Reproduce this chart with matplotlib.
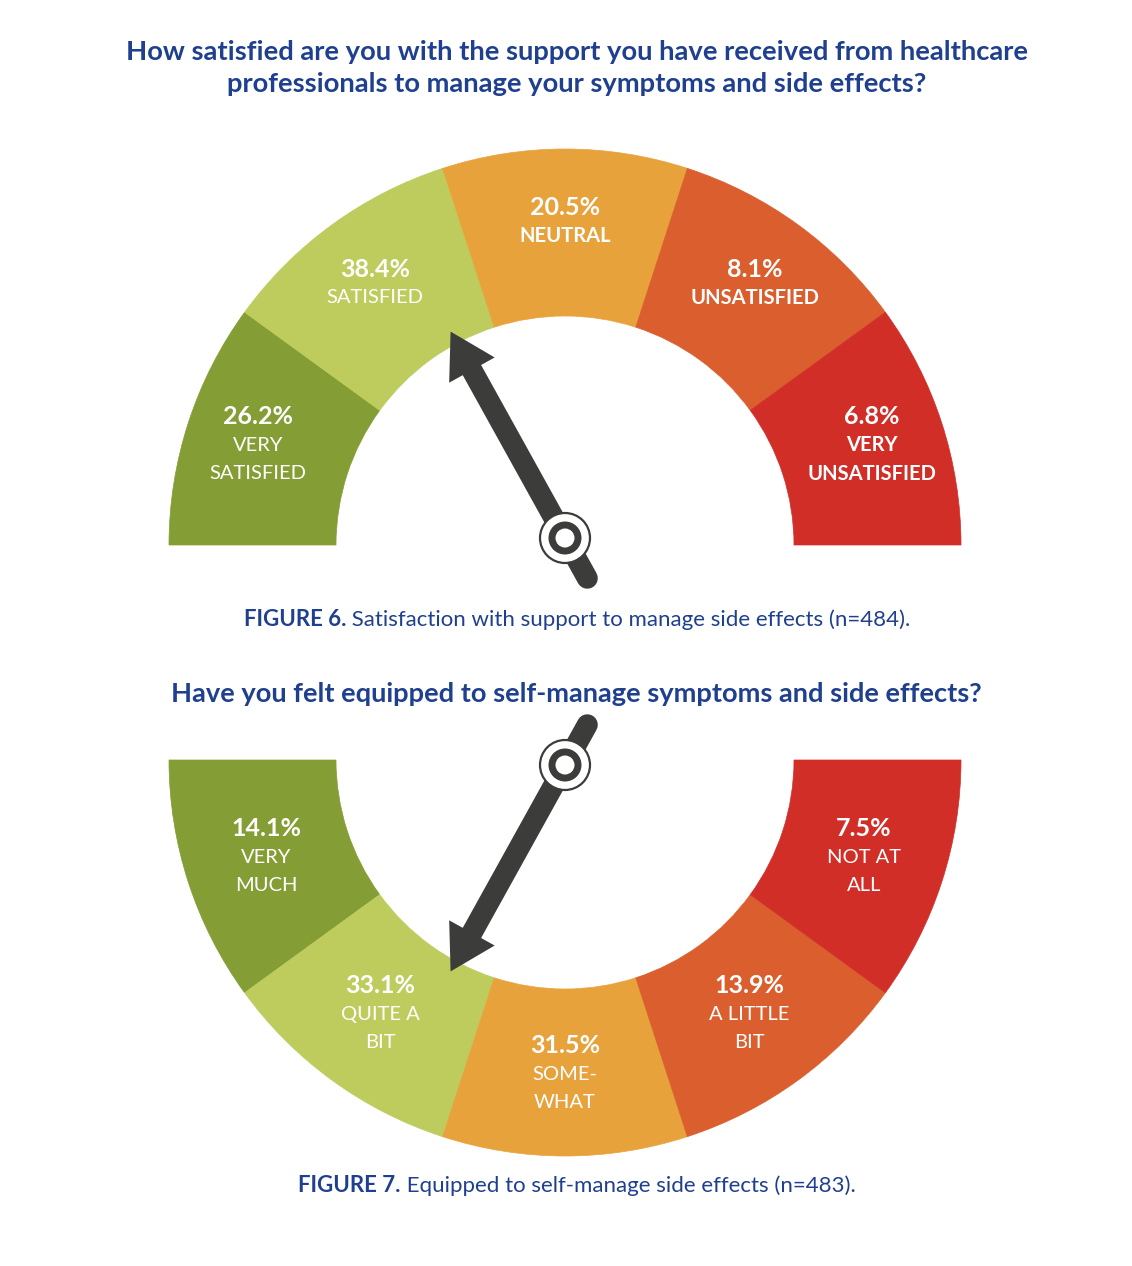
import matplotlib
matplotlib.use("Agg")
import matplotlib.pyplot as plt
from matplotlib.patches import Wedge, Circle, FancyArrow
import numpy as np

plt.rcParams['font.family'] = ['Lato', 'DejaVu Sans']

# figure 6 data
fig6_title = "How satisfied are you with the support you have received from healthcare\nprofessionals to manage your symptoms and side effects?"
fig6_values = [26.2, 38.4, 20.5, 8.1, 6.8]
fig6_labels = ["VERY\nSATISFIED", "SATISFIED", "NEUTRAL", "UNSATISFIED", "VERY\nUNSATISFIED"]
fig6_caption = ("FIGURE 6.", " Satisfaction with support to manage side effects (n=484).")
fig6_needle_deg = 119

# figure 7 data
fig7_title = "Have you felt equipped to self-manage symptoms and side effects?"
fig7_values = [14.1, 33.1, 31.5, 13.9, 7.5]
fig7_labels = ["VERY\nMUCH", "QUITE A\nBIT", "SOME-\nWHAT", "A LITTLE\nBIT", "NOT AT\nALL"]
fig7_caption = ("FIGURE 7.", " Equipped to self-manage side effects (n=483).")
fig7_needle_deg = 241

colors = ["#849D35", "#BECC5E", "#E8A23C", "#DA5E2E", "#D12E28"]
needle_col = "#3C3C3A"
blue = "#1F3F8F"

W, H = 1132, 1266
fig = plt.figure(figsize=(W / 100, H / 100), dpi=100)
ax = fig.add_axes([0, 0, 1, 1])
ax.set_xlim(0, W)
ax.set_ylim(0, H)
ax.axis('off')

R_OUT, R_IN = 396, 229
LINE = 28.5


def draw_gauge(cx, cy, values, labels, weights, start, step, needle_deg, hub_shift, r_lab):
    for i, (v, lab) in enumerate(zip(values, labels)):
        a1 = start + step * i
        a2 = start + step * (i + 1)
        ax.add_patch(Wedge((cx, cy), R_OUT, min(a1, a2), max(a1, a2),
                           width=R_OUT - R_IN, fc=colors[i], ec=colors[i], lw=0.5))
        mid = np.radians((a1 + a2) / 2)
        tx = cx + r_lab * np.cos(mid)
        ty = cy + r_lab * np.sin(mid)
        lines = lab.split("\n")
        n = len(lines) + 1
        top = ty + (n - 1) * LINE / 2
        ax.text(tx, top, f"{v}%", color="white", fontsize=18, fontweight="bold",
                ha="center", va="center")
        for k, ln in enumerate(lines):
            ax.text(tx, top - (k + 1) * LINE, ln, color="white", fontsize=14.5,
                    fontweight=weights[i], ha="center", va="center")

    # needle
    hx, hy = cx, cy + hub_shift
    th = np.radians(needle_deg)
    length = 236
    ax.add_patch(FancyArrow(hx, hy, length * np.cos(th), length * np.sin(th),
                            width=21, head_width=52, head_length=44,
                            length_includes_head=True, fc=needle_col, ec=needle_col,
                            lw=0, zorder=5))
    tail = 46
    ax.plot([hx, hx - tail * np.cos(th)], [hy, hy - tail * np.sin(th)],
            color=needle_col, lw=21 * 0.72, solid_capstyle="round", zorder=5)
    ax.add_patch(Circle((hx, hy), 25, fc="white", ec=needle_col, lw=1.6, zorder=6))
    ax.add_patch(Circle((hx, hy), 16.5, fc=needle_col, ec="none", zorder=7))
    ax.add_patch(Circle((hx, hy), 9.5, fc="white", ec="none", zorder=8))


def caption(y, parts):
    bold, rest = parts
    t = ax.text(0, y, bold, color=blue, fontsize=16, fontweight="bold", va="center")
    t2 = ax.text(0, y, rest, color=blue, fontsize=16, fontweight="normal", va="center")
    fig.canvas.draw()
    r = fig.canvas.get_renderer()
    w1 = t.get_window_extent(r).width
    w2 = t2.get_window_extent(r).width
    x0 = 577 - (w1 + w2) / 2
    t.set_x(x0)
    t2.set_x(x0 + w1)


ax.text(577, H - 68, fig6_title, color=blue, fontsize=19.7, fontweight="bold",
        ha="center", va="center", linespacing=1.35)
draw_gauge(565, H - 545, fig6_values, fig6_labels,
           ["normal", "normal", "bold", "bold", "bold"], 180, -36, fig6_needle_deg, 7, 323)
caption(H - 620, fig6_caption)

ax.text(576, H - 694, fig7_title, color=blue, fontsize=19.6, fontweight="bold",
        ha="center", va="center")
draw_gauge(565, H - 760, fig7_values, fig7_labels,
           ["normal"] * 5, 180, 36, fig7_needle_deg, -5, 314)
caption(H - 1186, fig7_caption)

fig.savefig("out.png", dpi=100, facecolor="white")
